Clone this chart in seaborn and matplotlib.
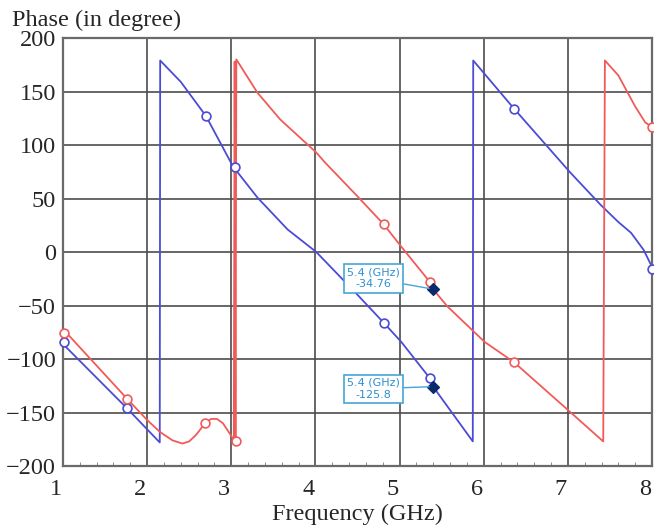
import matplotlib
matplotlib.use("Agg")
import matplotlib.pyplot as plt
import matplotlib.transforms as mtransforms
import seaborn as sns
from matplotlib.ticker import MultipleLocator

# blue trace (frequency in GHz, phase in degree)
blue_f = [1.0, 1.76, 2.15, 2.155, 2.40, 2.70, 3.02, 3.31, 3.67, 4.01, 4.50, 4.81,
          5.02, 5.36, 5.40, 5.87, 5.875, 6.36, 7.02, 7.39, 7.60, 7.75, 7.90, 8.0]
blue_phase = [-86, -146, -178, 179, 159, 127, 80, 51, 21, 0, -40, -66,
              -84, -118, -126, -177, 179, 134, 75, 44, 28, 18, 2, -14]

# red trace
red_f = [1.0, 1.76, 2.0, 2.15, 2.3, 2.42, 2.5, 2.58, 2.69, 2.76, 2.83, 2.9, 2.96,
         3.0, 3.03, 3.04, 3.05, 3.06, 3.31, 3.58, 4.01, 4.11, 4.50, 4.81, 5.02,
         5.36, 5.40, 5.57, 6.01, 6.36, 7.02, 7.42, 7.44, 7.60, 7.71, 7.80, 7.92, 8.0]
red_phase = [-72, -137, -157, -168, -176, -179, -177, -171, -160, -156, -156, -160, -167,
             -172, -176, 178, -178, 180, 149, 124, 93, 84, 52, 26, 5,
             -28, -35, -51, -84, -103, -149, -177, 179, 165, 149, 136, 121, 117]

# circle markers on each trace
blue_mk_f = [1.01, 1.76, 2.70, 3.05, 4.81, 5.36, 6.36, 8.0]
blue_mk_phase = [-84, -146, 127, 79, -66, -118, 134, -16]
red_mk_f = [1.01, 1.76, 2.69, 3.06, 4.81, 5.36, 6.36, 8.0]
red_mk_phase = [-76, -137, -160, -177, 26, -28, -103, 117]

# marker readouts
mark_f = [5.4, 5.4]
mark_phase = [-34.76, -125.8]
mark_text = ["5.4 (GHz)\n-34.76", "5.4 (GHz)\n-125.8"]

blue_c = "#4b4bd6"
red_c = "#f25a5a"

sns.set_style("white")
plt.rcParams["font.family"] = ["Liberation Serif", "DejaVu Serif"]

fig = plt.figure(figsize=(6.54, 5.28), dpi=100)
ax = fig.add_axes([0.0963, 0.1174, 0.9007, 0.8106])

sns.lineplot(x=blue_f, y=blue_phase, sort=False, estimator=None, color=blue_c, lw=1.3, ax=ax)
sns.lineplot(x=red_f, y=red_phase, sort=False, estimator=None, color=red_c, lw=1.3, ax=ax)
ax.scatter(blue_mk_f, blue_mk_phase, s=40, facecolor="white", edgecolor=blue_c, lw=1.2, zorder=4, clip_on=False)
ax.scatter(red_mk_f, red_mk_phase, s=40, facecolor="white", edgecolor=red_c, lw=1.2, zorder=4, clip_on=False)

ax.scatter(mark_f, mark_phase, marker="D", s=36, color="#0b2a6b", zorder=5)
for f, p, t in zip(mark_f, mark_phase, mark_text):
    ax.annotate(t, xy=(f, p), xytext=(4.69, p + (10 if p > -50 else -2)),
                ha="center", va="center", fontsize=8, color="#2f8fcf",
                family="DejaVu Sans",
                bbox=dict(boxstyle="square,pad=0.3", fc="white", ec="#45a5d8", lw=1.2),
                arrowprops=dict(arrowstyle="-", color="#45a5d8", lw=1.0,
                                shrinkA=0, shrinkB=3),
                zorder=6)

ax.set_xlim(1, 8)
ax.set_ylim(-200, 200)
ax.set_xticks(range(1, 9))
ax.set_yticks(range(-200, 201, 50))
ax.set_yticklabels([str(v).replace("-", "\u2212") for v in range(-200, 201, 50)])
ax.xaxis.set_minor_locator(MultipleLocator(0.2))
ax.tick_params(axis="x", which="major", labelsize=17.5, length=0, pad=9)
ax.tick_params(axis="y", which="major", labelsize=17.5, length=0, pad=5)
ax.tick_params(axis="x", which="minor", direction="in", length=3, color="#777777", bottom=True)
ax.grid(True, which="major", color="#4d4d4d", lw=1.2)
for s in ax.spines.values():
    s.set_color("#6a6a6a")
    s.set_linewidth(1.6)

# tick labels sit a little left of their grid lines in the original
shift = mtransforms.ScaledTranslation(-5 / 72, 0, fig.dpi_scale_trans)
for lab in ax.get_xticklabels():
    lab.set_transform(lab.get_transform() + shift)

fig.text(0.018, 0.962, "Phase (in degree)", fontsize=17.5, ha="left", va="center")
ax.set_xlabel("Frequency (GHz)", fontsize=17.5, labelpad=3)

fig.savefig("out.png", dpi=100)
